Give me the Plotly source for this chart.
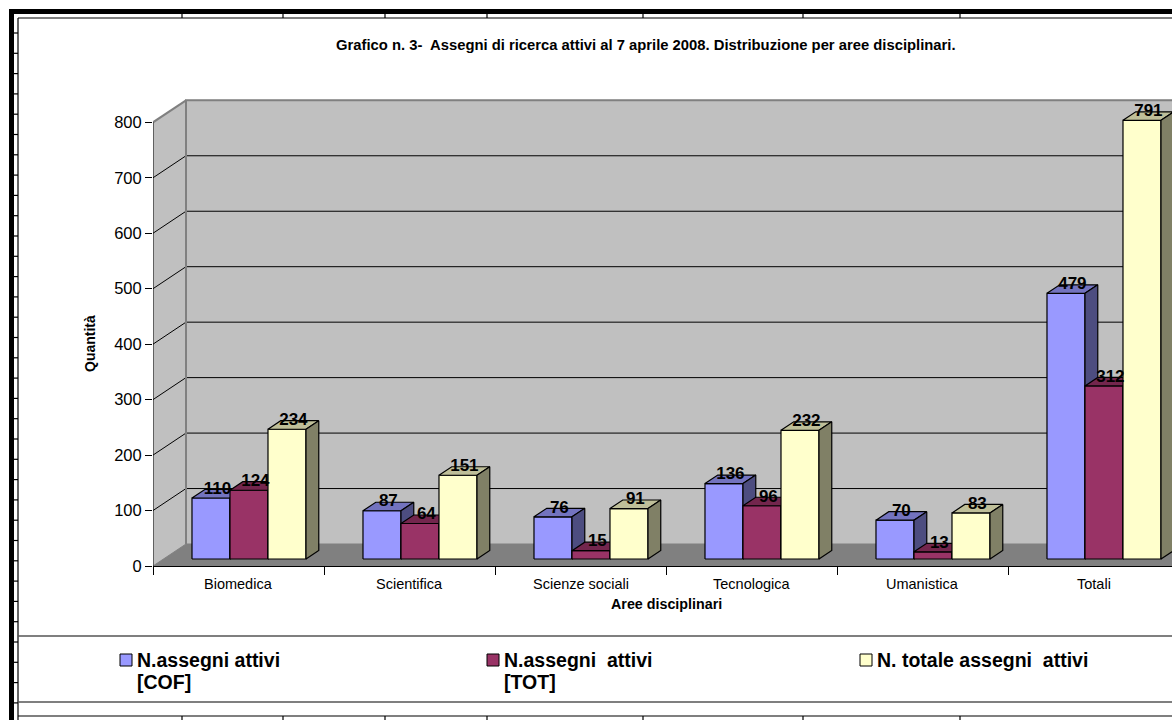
import plotly.graph_objects as go

# ---- data -------------------------------------------------------------
categories = ["Biomedica", "Scientifica", "Scienze sociali", "Tecnologica", "Umanistica", "Totali"]
assegni_cof = [110, 87, 76, 136, 70, 479]
assegni_tot = [124, 64, 15, 96, 13, 312]
assegni_totale = [234, 151, 91, 232, 83, 791]
series_labels = [["N.assegni attivi", "[COF]"],
                 ["N.assegni  attivi", "[TOT]"],
                 ["N. totale assegni  attivi"]]
y_ticks = [0, 100, 200, 300, 400, 500, 600, 700, 800]

title_text = "Grafico n. 3-  Assegni di ricerca attivi al 7 aprile 2008. Distribuzione per aree disciplinari."
x_title = "Aree disciplinari"
y_title = "Quantità"

# ---- styling ----------------------------------------------------------
FONT = "Liberation Sans, Arial, sans-serif"
face_colors = [  # front, top, side
    ("#9999FF", "#7373BF", "#4D4D80"),
    ("#993366", "#73264D", "#4D1A33"),
    ("#FFFFCC", "#BFBF99", "#808066"),
]
WALL = "#C0C0C0"
FLOOR = "#808080"

# ---- geometry (pixels of the 1172x720 page) ----------------------------
W, H = 1172, 720
AX_X0 = 153          # left end of the front category axis
AX_Y0 = 566          # pixel row of value 0 on the front plane
CAT_W = 171          # width of one category
PX_PER_VAL = 0.5546  # pixels per unit of value
PLOT_TOP = 90

X_MAX = (W - AX_X0) / CAT_W
Y_MAX = (AX_Y0 - PLOT_TOP) / PX_PER_VAL

# oblique projection: full depth shifts 33 px right and 22 px up
DX = 33 / CAT_W
DY = 22 / PX_PER_VAL
Z0, Z1 = 0.318, 0.705      # depth span occupied by the bars
BAR_W = 38 / CAT_W
GAP = (1 - 3 * BAR_W) / 2
X_FAR = 7.0


def proj(x, v, z):
    return x + z * DX, v + z * DY


def px(p):
    return p / W


def py(p):
    return 1 - p / H


def poly(points, fill, line_color=None, line_width=1.0, name=None, hover=None):
    xs = [proj(*p)[0] for p in points] + [proj(*points[0])[0]]
    ys = [proj(*p)[1] for p in points] + [proj(*points[0])[1]]
    return go.Scatter(
        x=xs, y=ys, mode="lines", fill="toself", fillcolor=fill,
        line=dict(color=line_color or fill, width=line_width),
        showlegend=False, name=name or "",
        hoverinfo="text" if hover else "skip", text=hover, hoveron="fills",
    )


fig = go.Figure()

# walls and floor
fig.add_trace(poly([(0, 0, 1), (0, 800, 1), (X_FAR, 800, 1), (X_FAR, 0, 1)], WALL))
fig.add_trace(poly([(0, 0, 0), (0, 800, 0), (0, 800, 1), (0, 0, 1)], WALL))

gx, gy = [], []
for v in y_ticks[1:-1]:
    for p in [(0, v, 0), (0, v, 1), (X_FAR, v, 1)]:
        a, b = proj(*p)
        gx.append(a)
        gy.append(b)
    gx.append(None)
    gy.append(None)
fig.add_trace(go.Scatter(x=gx, y=gy, mode="lines", line=dict(color="black", width=1),
                         hoverinfo="skip", showlegend=False))

ex, ey = [], []
for p in [(0, 0, 1), (0, 800, 1), (X_FAR, 800, 1)]:
    a, b = proj(*p)
    ex.append(a)
    ey.append(b)
ex.append(None)
ey.append(None)
for p in [(0, 800, 0), (0, 800, 1)]:
    a, b = proj(*p)
    ex.append(a)
    ey.append(b)
fig.add_trace(go.Scatter(x=ex, y=ey, mode="lines", line=dict(color="#808080", width=2),
                         hoverinfo="skip", showlegend=False))

fig.add_trace(poly([(0, 0, 0), (0, 0, 1), (X_FAR, 0, 1), (X_FAR, 0, 0)], FLOOR))

# bars, drawn left to right so nearer faces cover farther ones
series = [assegni_cof, assegni_tot, assegni_totale]
label_x = [[] for _ in series]
label_y = [[] for _ in series]
for i, cat in enumerate(categories):
    for j, vals in enumerate(series):
        v = vals[i]
        left = i + GAP + j * BAR_W
        right = left + BAR_W
        front, top, side = face_colors[j]
        name = " ".join(series_labels[j])
        hover = f"{cat}<br>{name}: {v}"
        fig.add_trace(poly([(left, 0, Z0), (left, v, Z0), (right, v, Z0), (right, 0, Z0)],
                           front, "black", 1.2, name, hover))
        fig.add_trace(poly([(left, v, Z0), (right, v, Z0), (right, v, Z1), (left, v, Z1)],
                           top, "black", 1.2))
        fig.add_trace(poly([(right, 0, Z0), (right, v, Z0), (right, v, Z1), (right, 0, Z1)],
                           side, "black", 1.2))
        label_x[j].append(proj(left + BAR_W / 2, v, (Z0 + Z1) / 2)[0])
        label_y[j].append(proj(left, v, Z1)[1])

for j, vals in enumerate(series):
    fig.add_trace(go.Scatter(
        x=label_x[j], y=label_y[j], mode="text", text=[str(v) for v in vals],
        textposition="middle center", cliponaxis=False,
        textfont=dict(family=FONT, size=17, color="black", weight="bold"),
        hoverinfo="skip", showlegend=False,
    ))

# ---- axes -------------------------------------------------------------
fig.update_xaxes(
    domain=[px(AX_X0), 1], range=[0, X_MAX], showgrid=False, zeroline=False,
    showline=True, linecolor="black", linewidth=1, automargin=False,
    tickmode="array", tickvals=list(range(len(categories) + 1)),
    ticks="outside", ticklen=8, tickcolor="black", tickwidth=1, showticklabels=False,
    fixedrange=True,
)
fig.update_yaxes(
    domain=[py(AX_Y0), py(PLOT_TOP)], range=[0, Y_MAX], showgrid=False, zeroline=False,
    showline=False, automargin=False, tickmode="array", tickvals=y_ticks,
    ticks="outside", ticklen=7, tickcolor="black", tickwidth=1,
    tickfont=dict(family=FONT, size=16.5, color="black"), fixedrange=True,
)

shapes = [dict(type="line", xref="x", yref="y", x0=0, y0=0, x1=0, y1=800,
               line=dict(color="black", width=1), layer="above")]

# page frame around the chart
black = dict(color="black", width=0)
shapes.append(dict(type="rect", xref="paper", yref="paper", x0=px(9), x1=px(14),
                   y0=py(720), y1=py(9), fillcolor="black", line=black))
shapes.append(dict(type="rect", xref="paper", yref="paper", x0=px(9), x1=px(W),
                   y0=py(14), y1=py(9), fillcolor="black", line=black))
thin = dict(color="black", width=1.2)
shapes.append(dict(type="line", xref="paper", yref="paper", x0=px(18), x1=px(W),
                   y0=py(18), y1=py(18), line=thin))
shapes.append(dict(type="line", xref="paper", yref="paper", x0=px(18), x1=px(18),
                   y0=py(18), y1=py(720), line=thin))
shapes.append(dict(type="line", xref="paper", yref="paper", x0=px(18), x1=px(W),
                   y0=py(716), y1=py(716), line=thin))
for k in range(1, 35):
    yy = 12.7 + 20.3 * k
    shapes.append(dict(type="line", xref="paper", yref="paper", x0=px(14), x1=px(18),
                       y0=py(yy), y1=py(yy), line=thin))
for xx in [182, 283, 385, 487, 643, 803, 960]:
    shapes.append(dict(type="line", xref="paper", yref="paper", x0=px(xx), x1=px(xx),
                       y0=py(14), y1=py(18), line=thin))
    shapes.append(dict(type="line", xref="paper", yref="paper", x0=px(xx), x1=px(xx),
                       y0=py(716), y1=py(720), line=thin))
# legend band
for yy in [636, 702]:
    shapes.append(dict(type="line", xref="paper", yref="paper", x0=px(18), x1=px(W),
                       y0=py(yy), y1=py(yy), line=dict(color="#555555", width=1.5)))

annotations = [
    dict(text=title_text, x=px(646), y=py(45), xref="paper", yref="paper",
         xanchor="center", yanchor="middle", showarrow=False,
         font=dict(family=FONT, size=14.8, color="black", weight="bold")),
    dict(text=y_title, x=px(90), y=py(344), xref="paper", yref="paper", textangle=-90,
         xanchor="center", yanchor="middle", showarrow=False,
         font=dict(family=FONT, size=14, color="black", weight="bold")),
    dict(text=x_title, x=px(666), y=py(604), xref="paper", yref="paper",
         xanchor="center", yanchor="middle", showarrow=False,
         font=dict(family=FONT, size=14.3, color="black", weight="bold")),
]
for i, cat in enumerate(categories):
    annotations.append(dict(text=cat, x=i + 0.5, y=py(584), xref="x", yref="paper",
                            xanchor="center", yanchor="middle", showarrow=False,
                            font=dict(family=FONT, size=14.5, color="black")))

# legend drawn as swatches with two-line captions
legend_x = [120, 487, 860]
for j, lines in enumerate(series_labels):
    x0 = legend_x[j]
    shapes.append(dict(type="rect", xref="paper", yref="paper", x0=px(x0), x1=px(x0 + 12),
                       y0=py(666), y1=py(654), fillcolor=face_colors[j][0],
                       line=dict(color="black", width=1)))
    for k, line in enumerate(lines):
        annotations.append(dict(text=line, x=px(x0 + 15), y=py(660 + 22 * k), xref="paper",
                                yref="paper", xanchor="left", yanchor="middle", showarrow=False,
                                font=dict(family=FONT, size=19.5, color="black", weight="bold")))

fig.update_layout(
    width=W, height=H, autosize=False,
    margin=dict(l=0, r=0, t=0, b=0, pad=0, autoexpand=False),
    paper_bgcolor="white", plot_bgcolor="white",
    showlegend=False, shapes=shapes, annotations=annotations,
    font=dict(family=FONT, color="black"),
)

fig.write_html("out.html", config={"displayModeBar": False})
